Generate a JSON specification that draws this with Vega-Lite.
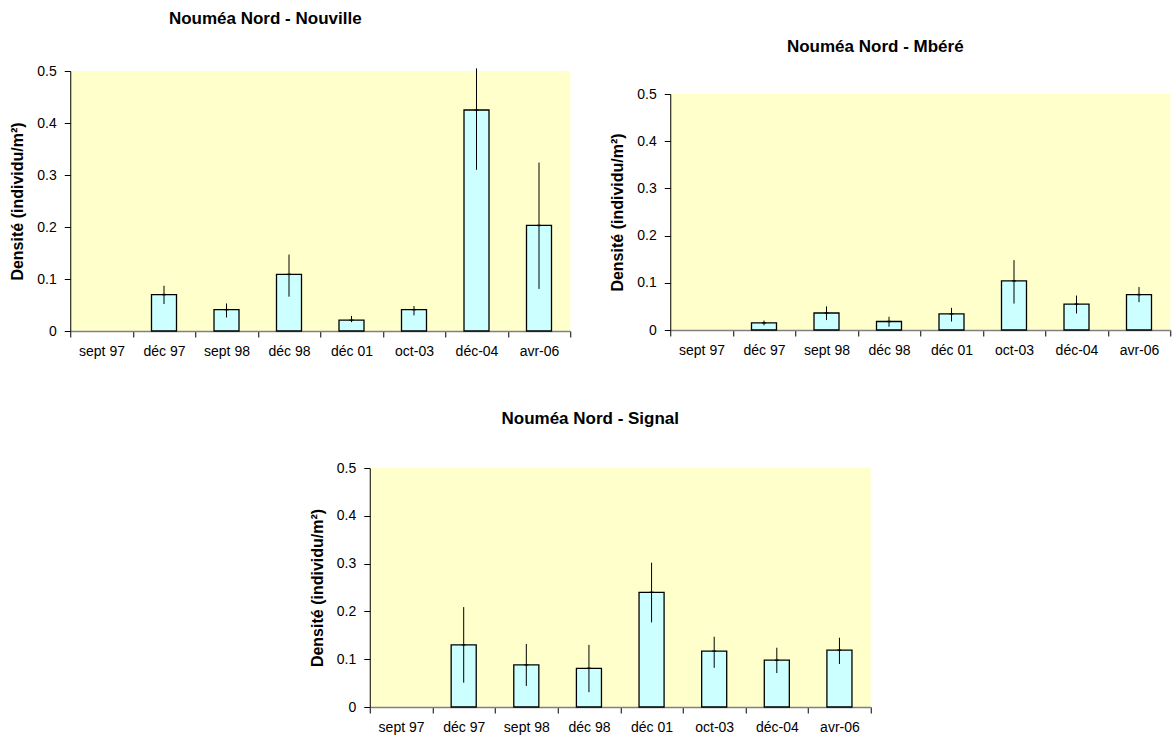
{
  "$schema": "https://vega.github.io/schema/vega-lite/v6.json",
  "padding": {"left": 9, "top": 10, "right": 1, "bottom": 1},
  "background": "white",
  "data": {"values": [
    {"site": "Nouville", "date": "déc 97", "value": 0.070, "low": 0.052, "high": 0.087},
    {"site": "Nouville", "date": "sept 98", "value": 0.041, "low": 0.026, "high": 0.053},
    {"site": "Nouville", "date": "déc 98", "value": 0.109, "low": 0.066, "high": 0.147},
    {"site": "Nouville", "date": "déc 01", "value": 0.021, "low": 0.017, "high": 0.029},
    {"site": "Nouville", "date": "oct-03", "value": 0.041, "low": 0.030, "high": 0.048},
    {"site": "Nouville", "date": "déc-04", "value": 0.425, "low": 0.310, "high": 0.505},
    {"site": "Nouville", "date": "avr-06", "value": 0.203, "low": 0.081, "high": 0.324},
    {"site": "Mbéré", "date": "déc 97", "value": 0.015, "low": 0.010, "high": 0.020},
    {"site": "Mbéré", "date": "sept 98", "value": 0.036, "low": 0.021, "high": 0.050},
    {"site": "Mbéré", "date": "déc 98", "value": 0.018, "low": 0.007, "high": 0.028},
    {"site": "Mbéré", "date": "déc 01", "value": 0.034, "low": 0.018, "high": 0.047},
    {"site": "Mbéré", "date": "oct-03", "value": 0.104, "low": 0.056, "high": 0.148},
    {"site": "Mbéré", "date": "déc-04", "value": 0.055, "low": 0.035, "high": 0.073},
    {"site": "Mbéré", "date": "avr-06", "value": 0.075, "low": 0.059, "high": 0.091},
    {"site": "Signal", "date": "déc 97", "value": 0.130, "low": 0.051, "high": 0.209},
    {"site": "Signal", "date": "sept 98", "value": 0.088, "low": 0.044, "high": 0.132},
    {"site": "Signal", "date": "déc 98", "value": 0.081, "low": 0.031, "high": 0.130},
    {"site": "Signal", "date": "déc 01", "value": 0.240, "low": 0.177, "high": 0.302},
    {"site": "Signal", "date": "oct-03", "value": 0.117, "low": 0.082, "high": 0.147},
    {"site": "Signal", "date": "déc-04", "value": 0.098, "low": 0.071, "high": 0.124},
    {"site": "Signal", "date": "avr-06", "value": 0.119, "low": 0.090, "high": 0.145}
  ]},
  "vconcat": [
    {
      "spacing": 38,
      "hconcat": [
        {
          "title": {"text": "Nouméa Nord - Nouville", "dx": -55},
          "width": 500,
          "height": 260,
          "transform": [{"filter": "datum.site === 'Nouville'"}],
          "encoding": {
            "x": {"field": "date", "type": "nominal", "sort": null,
                  "scale": {"domain": ["sept 97", "déc 97", "sept 98", "déc 98", "déc 01", "oct-03", "déc-04", "avr-06"], "paddingInner": 0, "paddingOuter": 0},
                  "axis": {"title": null}}
          },
          "layer": [
            {"mark": {"type": "bar", "width": {"band": 0.4}, "fill": "#CCFFFF", "stroke": "#000000", "strokeWidth": 1.3},
             "encoding": {"y": {"field": "value", "type": "quantitative", "scale": {"domain": [0, 0.5], "nice": false},
                                "axis": {"title": "Densité (individu/m²)", "values": [0, 0.1, 0.2, 0.3, 0.4, 0.5], "format": "~g"}}}},
            {"mark": {"type": "rule", "color": "#000000", "strokeWidth": 1},
             "encoding": {"y": {"field": "low", "type": "quantitative"}, "y2": {"field": "high"}}},
            {"mark": {"type": "tick", "color": "#000000", "orient": "horizontal", "size": 4, "thickness": 1.5},
             "encoding": {"y": {"field": "value", "type": "quantitative"}}}
          ]
        },
        {
          "title": {"text": "Nouméa Nord - Mbéré", "offset": 15, "dx": -15},
          "spacing": 0,
          "vconcat": [
            {
              "width": 500,
              "height": 16,
              "view": {"fill": null, "stroke": null},
              "data": {"values": []},
              "mark": {"type": "point", "opacity": 0}
            },
            {
              "width": 500,
              "height": 236,
              "transform": [{"filter": "datum.site === 'Mbéré'"}],
              "encoding": {
                "x": {"field": "date", "type": "nominal", "sort": null,
                      "scale": {"domain": ["sept 97", "déc 97", "sept 98", "déc 98", "déc 01", "oct-03", "déc-04", "avr-06"], "paddingInner": 0, "paddingOuter": 0},
                      "axis": {"title": null}}
              },
              "layer": [
                {"mark": {"type": "bar", "width": {"band": 0.4}, "fill": "#CCFFFF", "stroke": "#000000", "strokeWidth": 1.3},
                 "encoding": {"y": {"field": "value", "type": "quantitative", "scale": {"domain": [0, 0.5], "nice": false},
                                    "axis": {"title": "Densité (individu/m²)", "values": [0, 0.1, 0.2, 0.3, 0.4, 0.5], "format": "~g"}}}},
                {"mark": {"type": "rule", "color": "#000000", "strokeWidth": 1},
                 "encoding": {"y": {"field": "low", "type": "quantitative"}, "y2": {"field": "high"}}},
                {"mark": {"type": "tick", "color": "#000000", "orient": "horizontal", "size": 4, "thickness": 1.5},
                 "encoding": {"y": {"field": "value", "type": "quantitative"}}}
              ]
            }
          ]
        }
      ]
    },
    {
      "title": {"text": "Nouméa Nord - Signal", "dx": -30, "offset": 33},
      "width": 501,
      "height": 239,
      "transform": [{"filter": "datum.site === 'Signal'"}],
      "encoding": {
        "x": {"field": "date", "type": "nominal", "sort": null,
              "scale": {"domain": ["sept 97", "déc 97", "sept 98", "déc 98", "déc 01", "oct-03", "déc-04", "avr-06"], "paddingInner": 0, "paddingOuter": 0},
              "axis": {"title": null}}
      },
      "layer": [
        {"mark": {"type": "bar", "width": {"band": 0.4}, "fill": "#CCFFFF", "stroke": "#000000", "strokeWidth": 1.3},
         "encoding": {"y": {"field": "value", "type": "quantitative", "scale": {"domain": [0, 0.5], "nice": false},
                            "axis": {"title": "Densité (individu/m²)", "values": [0, 0.1, 0.2, 0.3, 0.4, 0.5], "format": "~g"}}}},
        {"mark": {"type": "rule", "color": "#000000", "strokeWidth": 1},
         "encoding": {"y": {"field": "low", "type": "quantitative"}, "y2": {"field": "high"}}},
        {"mark": {"type": "tick", "color": "#000000", "orient": "horizontal", "size": 4, "thickness": 1.5},
         "encoding": {"y": {"field": "value", "type": "quantitative"}}}
      ]
    }
  ],
  "center": true,
  "spacing": 52,
  "config": {
    "font": "Liberation Sans",
    "view": {"fill": "#FFFFCC", "stroke": null},
    "title": {"fontSize": 17, "fontWeight": "bold", "font": "Liberation Sans", "color": "#000000", "anchor": "middle", "offset": 36},
    "axis": {"grid": false, "labelFont": "Liberation Sans", "labelFontSize": 14, "labelColor": "#000000",
             "titleFont": "Liberation Sans", "titleFontSize": 16, "titleFontWeight": "bold", "titleColor": "#000000",
             "tickColor": "#000000", "tickSize": 6, "domainColor": "#000000"},
    "axisY": {"labelPadding": 8, "titlePadding": 11, "domainColor": "#000000"},
    "axisX": {"labelAngle": 0, "tickBand": "extent", "labelPadding": 7, "domainColor": "#808080", "domainWidth": 1.5}
  }
}
